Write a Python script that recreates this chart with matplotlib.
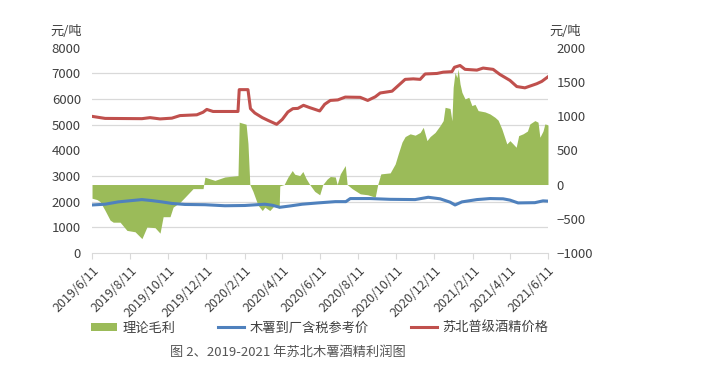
import matplotlib
matplotlib.use('Agg')
import matplotlib.pyplot as plt
import matplotlib.dates as mdates
import numpy as np
import pandas as pd

plt.rcParams['font.family'] = ['Noto Sans CJK SC', 'DejaVu Sans']

# 苏北普级酒精价格 (left axis, 元/吨)
alcohol_dates = ['2019-06-11', '2019-07-02', '2019-08-30', '2019-09-12', '2019-09-28',
                 '2019-10-17', '2019-10-30', '2019-11-26', '2019-12-06', '2019-12-12',
                 '2019-12-22', '2020-01-31', '2020-02-02', '2020-02-16', '2020-02-20',
                 '2020-02-27', '2020-03-10', '2020-03-19', '2020-04-02', '2020-04-11',
                 '2020-04-20', '2020-04-28', '2020-05-06', '2020-05-15', '2020-05-25',
                 '2020-06-10', '2020-06-18', '2020-06-27', '2020-07-09', '2020-07-21',
                 '2020-08-14', '2020-08-26', '2020-09-07', '2020-09-15', '2020-10-04',
                 '2020-10-25', '2020-11-07', '2020-11-18', '2020-11-26', '2020-12-15',
                 '2020-12-25', '2021-01-08', '2021-01-12', '2021-01-21', '2021-01-29',
                 '2021-02-17', '2021-02-27', '2021-03-15', '2021-03-26', '2021-04-11',
                 '2021-04-22', '2021-05-05', '2021-05-24', '2021-06-01', '2021-06-11']
alcohol_price = [5320, 5240, 5230, 5270, 5220,
                 5250, 5350, 5380, 5480, 5590,
                 5510, 5510, 6360, 6360, 5620,
                 5450, 5270, 5165, 5010, 5200,
                 5490, 5620, 5630, 5750, 5660,
                 5530, 5790, 5940, 5960, 6070,
                 6060, 5940, 6080, 6230, 6300,
                 6760, 6780, 6760, 6970, 6990,
                 7040, 7060, 7230, 7300, 7150,
                 7120, 7200, 7150, 6950, 6720,
                 6480, 6430, 6590, 6680, 6860]

# 木薯到厂含税参考价 (left axis, 元/吨)
cassava_dates = ['2019-06-11', '2019-07-02', '2019-07-23', '2019-08-13', '2019-08-30',
                 '2019-09-15', '2019-10-01', '2019-10-17', '2019-11-07', '2019-12-09',
                 '2020-01-10', '2020-02-11', '2020-03-14', '2020-03-26', '2020-04-07',
                 '2020-04-23', '2020-05-13', '2020-06-07', '2020-07-05', '2020-07-22',
                 '2020-07-29', '2020-08-30', '2020-10-01', '2020-11-10', '2020-12-01',
                 '2020-12-20', '2021-01-05', '2021-01-13', '2021-01-24', '2021-02-17',
                 '2021-03-10', '2021-03-31', '2021-04-11', '2021-04-24', '2021-05-21',
                 '2021-06-03', '2021-06-11']
cassava_price = [1870, 1900, 1990, 2040, 2080,
                 2040, 1990, 1930, 1890, 1880,
                 1840, 1850, 1900, 1860, 1780,
                 1830, 1900, 1950, 2000, 2000,
                 2120, 2120, 2090, 2080, 2170,
                 2110, 1980, 1870, 1990, 2080,
                 2120, 2110, 2060, 1950, 1960,
                 2030, 2020]

# 理论毛利 (right axis, 元/吨)
profit_dates = ['2019-06-11', '2019-06-19', '2019-06-24', '2019-07-02', '2019-07-10',
                '2019-07-15', '2019-07-26', '2019-08-06', '2019-08-19', '2019-08-30',
                '2019-09-07', '2019-09-20', '2019-09-28', '2019-10-03', '2019-10-14',
                '2019-10-19', '2019-10-30', '2019-11-07', '2019-11-20', '2019-12-06',
                '2019-12-09', '2019-12-25', '2020-01-10', '2020-01-31', '2020-02-02',
                '2020-02-13', '2020-02-16', '2020-02-19', '2020-02-24', '2020-03-03',
                '2020-03-10', '2020-03-14', '2020-03-22', '2020-03-30', '2020-04-06',
                '2020-04-07', '2020-04-14', '2020-04-20', '2020-04-27', '2020-05-01',
                '2020-05-09', '2020-05-14', '2020-05-19', '2020-05-25', '2020-06-02',
                '2020-06-10', '2020-06-15', '2020-06-22', '2020-06-27', '2020-07-05',
                '2020-07-08', '2020-07-13', '2020-07-21', '2020-07-24', '2020-08-01',
                '2020-08-14', '2020-08-26', '2020-09-07', '2020-09-11', '2020-09-16',
                '2020-10-01', '2020-10-09', '2020-10-14', '2020-10-20', '2020-10-25',
                '2020-11-02', '2020-11-10', '2020-11-18', '2020-11-23', '2020-11-29',
                '2020-12-04', '2020-12-12', '2020-12-20', '2020-12-25', '2020-12-28',
                '2021-01-05', '2021-01-08', '2021-01-10', '2021-01-13', '2021-01-16',
                '2021-01-18', '2021-01-21', '2021-01-24', '2021-01-29', '2021-02-04',
                '2021-02-09', '2021-02-14', '2021-02-19', '2021-03-02', '2021-03-10',
                '2021-03-18', '2021-03-23', '2021-03-29', '2021-04-06', '2021-04-11',
                '2021-04-16', '2021-04-21', '2021-04-25', '2021-05-02', '2021-05-09',
                '2021-05-13', '2021-05-21', '2021-05-26', '2021-05-29', '2021-06-03',
                '2021-06-06', '2021-06-11']
profit = [-200, -220, -250, -380, -520,
          -550, -550, -670, -690, -790,
          -620, -630, -710, -470, -470,
          -330, -260, -185, -60, -60,
          107, 60, 110, 130, 910,
          880, 600, 0, -100, -300,
          -380, -330, -380, -300, -350,
          -20, 0, 107, 204, 150,
          130, 190, 90, 0, -100,
          -150, 0, 80, 117, 110,
          0, 155, 277, 0, -60,
          -136, -150, -185, 0, 155,
          170, 300, 450, 620, 700,
          740, 720, 760, 835, 641,
          700, 760, 860, 933, 1127,
          1110, 930, 1418, 1637, 1560,
          1686, 1468, 1346, 1249, 1273,
          1152, 1170, 1079, 1060, 1030,
          981, 940, 812, 593, 640,
          593, 544, 714, 740, 780,
          885, 933, 910, 690, 780,
          885, 870]

tick_labels = ['2019/6/11', '2019/8/11', '2019/10/11', '2019/12/11', '2020/2/11',
               '2020/4/11', '2020/6/11', '2020/8/11', '2020/10/11', '2020/12/11',
               '2021/2/11', '2021/4/11', '2021/6/11']

green = '#9BBB59'
blue = '#4F81BD'
red = '#C0504D'
text_c = '#404040'
grid_c = '#D9D9D9'

fig = plt.figure(figsize=(7.03, 3.75), dpi=100)
ax_p = fig.add_axes([0.1309, 0.3253, 0.6486, 0.548])   # profit, right scale
ax = ax_p.twinx()                                       # prices, left scale
ax.set_zorder(ax_p.get_zorder() + 1)
ax.patch.set_visible(False)

pdates = pd.to_datetime(profit_dates)
ax_p.fill_between(pdates, 0, profit, color=green, linewidth=0, zorder=2, label='理论毛利')
ax.plot(pd.to_datetime(cassava_dates), cassava_price, color=blue, lw=2.2, label='木薯到厂含税参考价')
ax.plot(pd.to_datetime(alcohol_dates), alcohol_price, color=red, lw=2.2, label='苏北普级酒精价格')

xticks = pd.to_datetime([t.replace('/', '-') for t in tick_labels])
ax_p.set_xlim(xticks[0], xticks[-1])
ax_p.set_xticks(xticks)
ax_p.set_xticklabels(tick_labels, rotation=45, ha='right', va='top',
                     rotation_mode='anchor', fontsize=9, color=text_c)

# profit scale on the right, price scale on the left
ax_p.set_ylim(-1000, 2000)
ax_p.set_yticks(np.arange(-1000, 2001, 500))
ax_p.yaxis.tick_right()
ax.set_ylim(0, 8000)
ax.set_yticks(np.arange(0, 8001, 1000))
ax.yaxis.tick_left()

# gridlines follow the left scale but sit behind the green area
ax_p.set_yticks(np.linspace(-1000, 2000, 9), minor=True)
ax_p.yaxis.grid(True, which='minor', color=grid_c, lw=0.9)
ax_p.set_axisbelow(True)

for a in (ax, ax_p):
    for s in a.spines.values():
        s.set_visible(False)
    a.tick_params(axis='y', length=0, labelsize=9.5, labelcolor=text_c, which='both')
ax.tick_params(axis='y', pad=8)
ax_p.tick_params(axis='y', pad=6)
ax_p.spines['bottom'].set_visible(True)
ax_p.spines['bottom'].set_color(grid_c)
ax_p.tick_params(axis='x', length=4, color=grid_c, pad=4)
ax.tick_params(axis='x', length=0, labelbottom=False)

fig.text(0.094, 0.917, '元/吨', ha='center', va='center', fontsize=9.5, color=text_c)
fig.text(0.804, 0.917, '元/吨', ha='center', va='center', fontsize=9.5, color=text_c)

handles = [ax_p.collections[0]] + ax.get_lines()
fig.legend(handles, [h.get_label() for h in handles], loc='center', ncol=3,
           bbox_to_anchor=(0.455, 0.125), frameon=False, fontsize=9.5,
           handlelength=2.0, handleheight=0.6, columnspacing=3.2, handletextpad=0.4,
           labelcolor=text_c)

fig.text(0.41, 0.061, '图 2、2019-2021 年苏北木薯酒精利润图', ha='center', va='center',
         fontsize=9.5, color='#555555', style='italic')

fig.savefig('out.png', dpi=100)
